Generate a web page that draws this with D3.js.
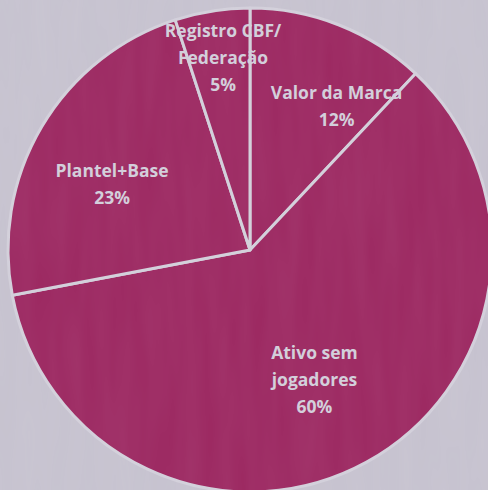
<!DOCTYPE html>
<html>
<head>
<meta charset="utf-8">
<script src="https://cdn.jsdelivr.net/npm/d3@7"></script>
<style>
  html, body { margin: 0; padding: 0; background: #c8c4d1; }
  #chart { width: 488px; height: 490px; overflow: hidden; }
  text { font-family: "Open Sans", Lato, sans-serif; font-weight: bold; }
</style>
</head>
<body>
<div id="chart"></div>
<script>
// dados do gráfico
const categories = ["Valor da Marca", "Ativo sem jogadores", "Plantel+Base", "Registro CBF/ Federação"];
const values = [12, 60, 23, 5];
const labelLines = [["Valor da Marca"], ["Ativo sem", "jogadores"], ["Plantel+Base"], ["Registro CBF/", "Federação"]];

const width = 488, height = 490;
const cx = 250, cy = 250, radius = 242;

// deslocamento dos rótulos (ângulo em graus, raio em px) - "best fit"
const labelPlace = {
  "Valor da Marca": { angle: 31, r: 168 },
  "Ativo sem jogadores": { angle: 153.6, r: 145 },
  "Plantel+Base": { angle: 295.6, r: 153 },
  "Registro CBF/ Federação": { angle: 352, r: 194 }
};

const svg = d3.select("#chart").append("svg")
    .attr("width", width)
    .attr("height", height);

// fundo com textura leve
const defs = svg.append("defs");
const f = defs.append("filter").attr("id", "grain").attr("x", 0).attr("y", 0).attr("width", "100%").attr("height", "100%");
f.append("feTurbulence").attr("type", "fractalNoise").attr("baseFrequency", "0.06 0.008").attr("numOctaves", 2).attr("seed", 5);
f.append("feColorMatrix").attr("type", "matrix")
  .attr("values", "0 0 0 0 1  0 0 0 0 1  0 0 0 0 1  0 0 0 0.10 0");

svg.append("rect").attr("width", width).attr("height", height).attr("fill", "#c6c2cf");

const g = svg.append("g").attr("transform", "translate(" + cx + "," + cy + ")");

const pie = d3.pie().sort(null).value(d => d.value);
const arc = d3.arc().innerRadius(0).outerRadius(radius);

const data = categories.map((c, i) => ({ name: c, value: values[i], lines: labelLines[i] }));
const arcs = pie(data);

g.selectAll("path.slice")
  .data(arcs)
  .enter().append("path")
    .attr("class", "slice")
    .attr("d", arc)
    .attr("fill", "#9c2861")
    .attr("stroke", "#d2cfda")
    .attr("stroke-width", 3)
    .attr("stroke-linejoin", "round");

// textura por cima
svg.append("rect").attr("width", width).attr("height", height)
  .attr("filter", "url(#grain)").attr("opacity", 0.6);

const lineH = 27;
const labels = svg.append("g").attr("transform", "translate(" + cx + "," + cy + ")");
arcs.forEach(d => {
  const p = labelPlace[d.data.name];
  const a = p.angle * Math.PI / 180;
  const x = Math.sin(a) * p.r, y = -Math.cos(a) * p.r;
  const lines = d.data.lines.concat([d.data.value + "%"]);
  const t = labels.append("text")
    .attr("text-anchor", "middle")
    .attr("fill", "#d3cfdb")
    .attr("font-size", 17.5);
  lines.forEach((s, i) => {
    t.append("tspan")
      .attr("x", x)
      .attr("y", y + (i - (lines.length - 1) / 2) * lineH)
      .attr("dy", "0.35em")
      .text(s);
  });
});
</script>
</body>
</html>
